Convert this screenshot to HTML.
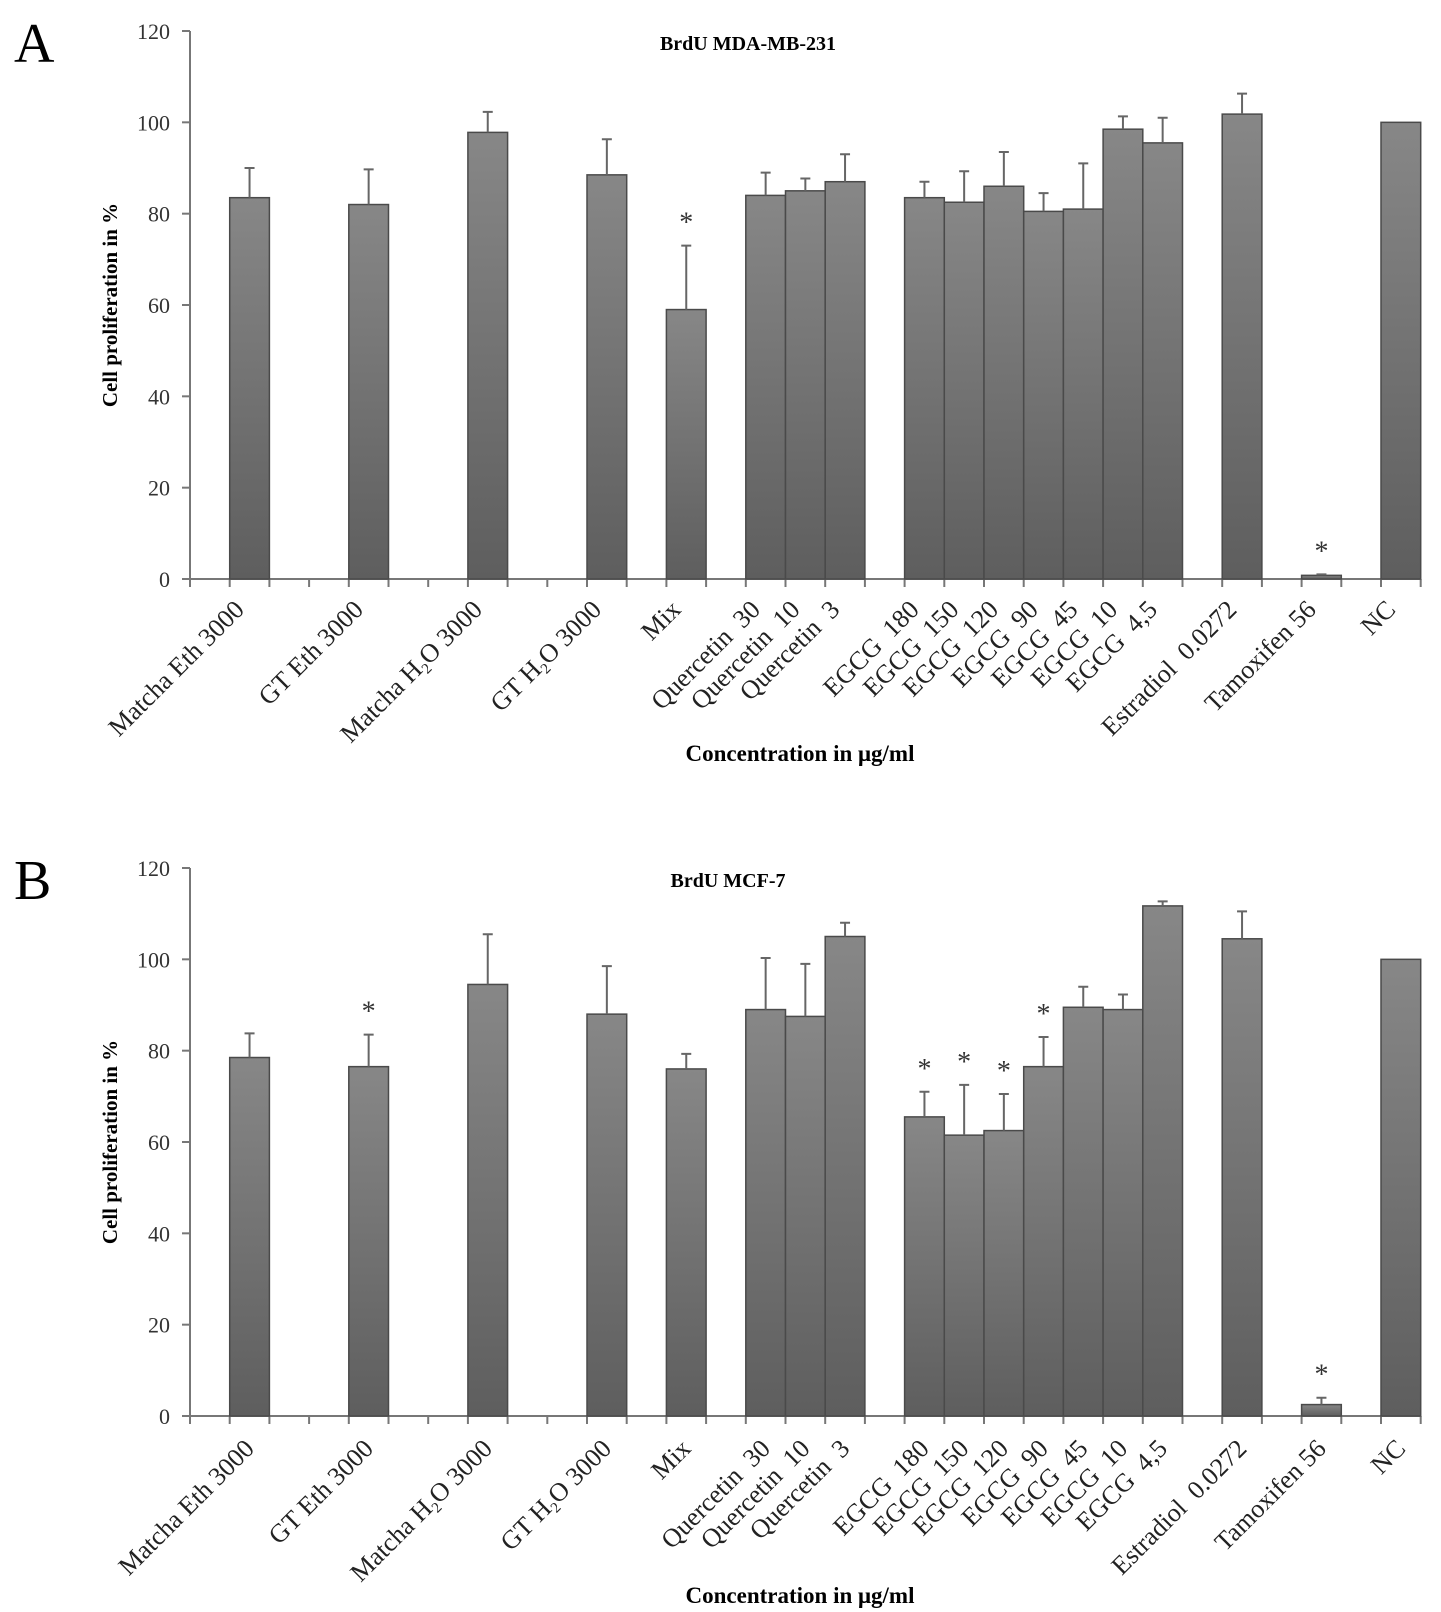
<!DOCTYPE html>
<html><head><meta charset="utf-8"><style>
html,body{margin:0;padding:0;background:#fff;}
svg{display:block;font-family:"Liberation Serif",serif;}
.xl{white-space:pre;}
</style></head><body>
<svg id="fig" width="1441" height="1612" viewBox="0 0 1441 1612" xmlns="http://www.w3.org/2000/svg">
<defs><linearGradient id="bg" x1="0" y1="0" x2="0" y2="1"><stop offset="0" stop-color="#878787"/><stop offset="1" stop-color="#5e5e5e"/></linearGradient></defs>
</svg>
<script>
const categories=["Matcha Eth 3000","GT Eth 3000","Matcha H2O 3000","GT H2O 3000","Mix","Quercetin  30","Quercetin  10","Quercetin  3","EGCG  180","EGCG  150","EGCG  120","EGCG  90","EGCG  45","EGCG  10","EGCG  4,5","Estradiol  0.0272","Tamoxifen 56","NC"];
const slots=[1,4,7,10,12,14,15,16,18,19,20,21,22,23,24,26,28,30];
const valuesA=[83.5,82,97.8,88.5,59,84,85,87,83.5,82.5,86,80.5,81,98.5,95.5,101.8,0.8,100];
const errTopA=[90,89.7,102.3,96.3,73,89,87.7,93,87,89.3,93.5,84.5,91,101.3,101,106.3,1.0,100];
const starsA=[4,16];
const valuesB=[78.5,76.5,94.5,88,76,89,87.5,105,65.5,61.5,62.5,76.5,89.5,89,111.7,104.5,2.5,100];
const errTopB=[83.8,83.5,105.5,98.5,79.3,100.3,99,108,71,72.5,70.5,83,94,92.3,112.7,110.5,4,100];
const starsB=[1,8,9,10,11,16];
const yTicks=[0,20,40,60,80,100,120];
const NS="http://www.w3.org/2000/svg";
const svg=document.getElementById('fig');
const X0=190,SW=39.7,NSLOT=31,PH=548;
function mk(tag,attrs,parent){const e=document.createElementNS(NS,tag);for(const k in attrs)e.setAttribute(k,attrs[k]);(parent||svg).appendChild(e);return e;}
function panel(top,letter,title,titleX,vals,errs,stars,key,lblDx,lblDy,xtY){
  const g=mk('g',{});
  
  
  const y=v=>top+PH-v*PH/120;
  const xs=i=>X0+i*SW;
  const L=mk('text',{x:14,y:top+31,'font-size':56},g);L.textContent=letter;
  
  
  const T=mk('text',{x:titleX,y:top+19,'font-size':20,'font-weight':'bold','text-anchor':'middle'},g);T.textContent=title;
  
  
  const ax=mk('g',{stroke:'#777','stroke-width':2},g);
  
  
  mk('line',{x1:X0,y1:y(120),x2:X0,y2:y(0)},ax);
  mk('line',{x1:X0-8,y1:y(0),x2:xs(NSLOT),y2:y(0)},ax);
  yTicks.forEach(t=>{mk('line',{x1:X0-8,y1:y(t),x2:X0,y2:y(t)},ax);
    const tl=mk('text',{x:X0-20,y:y(t)+8,'font-size':22,'text-anchor':'end',fill:'#333',stroke:'none'},g);tl.textContent=t;
    
    });
  const tickSet=new Set([0]);slots.forEach(s=>{tickSet.add(s);tickSet.add(s+1);});
  for(let k=1;k*3<=31;k++)tickSet.add(k*3);
  tickSet.forEach(s=>mk('line',{x1:xs(s),y1:y(0),x2:xs(s),y2:y(0)+8},ax));
  const yt=mk('text',{transform:`translate(117 ${y(60)}) rotate(-90)`,'font-size':21,'font-weight':'bold','text-anchor':'middle'},g);yt.textContent='Cell proliferation in %';
  
  
  categories.forEach((c,i)=>{
    const x=xs(slots[i]);
    const r=mk('rect',{x:x,y:y(vals[i]),width:SW,height:y(0)-y(vals[i]),fill:'url(#bg)',stroke:'#4a4a4a','stroke-width':1.5},g);
    
    
    if(errs[i]>vals[i]+0.1){const cx=x+SW/2;
      const e=mk('path',{d:`M${cx} ${y(vals[i])}V${y(errs[i])}M${cx-5} ${y(errs[i])}H${cx+5}`,stroke:'#666','stroke-width':2,fill:'none'},g);
      
      }
    if(stars.includes(i)){const s=mk('text',{x:x+SW/2,y:y(errs[i])-14,'font-size':28,'text-anchor':'middle',fill:'#333'},g);s.textContent='*';
      
      }
    const lx=x+SW/2+lblDx,ly=y(0)+lblDy;
    const t=mk('text',{class:'xl',transform:`translate(${lx} ${ly}) rotate(-45)`,'font-size':26,'text-anchor':'end',fill:'#222'},g);
    if(c.includes('H2O')){const p=c.split('H2O');t.appendChild(document.createTextNode(p[0]+'H'));
      const sub=mk('tspan',{'font-size':15,dy:5},t);sub.textContent='2';
      const rest=mk('tspan',{dy:-5},t);rest.textContent='O'+p[1];}
    else t.textContent=c;
    
    
  });
  const xt=mk('text',{x:800,y:xtY,'font-size':23,'font-weight':'bold','text-anchor':'middle'},g);xt.textContent='Concentration in μg/ml';
  
  
}
panel(31,'A','BrdU MDA-MB-231',748,valuesA,errTopA,starsA,'a',-4,32,761);
panel(868,'B','BrdU MCF-7',728,valuesB,errTopB,starsB,'b',6,34,1603);
</script>
</body></html>
